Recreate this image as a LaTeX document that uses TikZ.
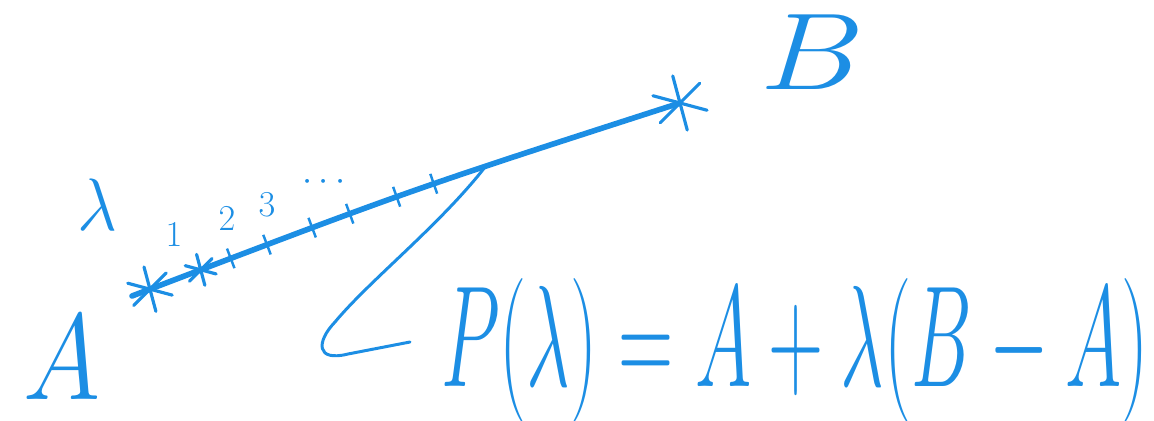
\documentclass[tikz,border=0pt]{standalone}
\usepackage{graphicx}
\definecolor{handblue}{RGB}{28,142,228}
\begin{document}
\begin{tikzpicture}[
        x=0.02cm, y=-0.02cm,
        pen/.style={draw=handblue, line width=3.2pt, line cap=round},
        thin_pen/.style={draw=handblue, line width=1.7pt, line cap=round, line join=round},
        tick_mark/.style={draw=handblue, line width=1.4pt, minimum width=0pt, minimum height=0.42cm, inner sep=0pt, sloped},
        label_text/.style={text=handblue, inner sep=0pt, font=\Huge},
        asterisk/.pic={
            \foreach \ang in {15,75,135}
                \draw[handblue, line width=1.8pt, line cap=round] (\ang:-1) -- (\ang:1);
        }
    ]
    \useasboundingbox (0,0) rectangle (1154,420);
    \coordinate (lineStart) at (132,296);
    \coordinate (ptB) at (680,103);

    % Gerade von A nach B mit Teilung
    \draw[pen] (lineStart) .. controls (410,190) .. (ptB)
        coordinate[pos=0.022] (ptA)
        coordinate[pos=0.09] (ptOne)
        coordinate[pos=0.68] (callTip)
        \foreach \p in {0.135,0.195,0.28,0.36,0.47,0.56} { node[tick_mark, pos=\p] {} };
    \pic[scale=23] at (ptA) {asterisk};
    \pic[scale=16] at (ptOne) {asterisk};
    \pic[scale=28] at (ptB) {asterisk};

    % Beschriftung
    \node[label_text] (labA) at (62,358) {\scalebox{2.4}[2.8]{$A$}};
    \node[label_text] (labB) at (813,52) {\scalebox{3}[2.5]{$B$}};
    \node[label_text] (labLambda) at (97,205) {\scalebox{1.6}[1.7]{$\lambda$}};
    \node[label_text, font=\huge] (numOne) at (174,235) {$1$};
    \node[label_text, font=\huge] (numTwo) at (227,219) {$2$};
    \node[label_text, font=\huge] (numThree) at (267,205) {$3$};
    \node[label_text, font=\huge] (numDots) at (324,182) {$\cdots$};

    % Formel mit Verweis
    \node[label_text] (formula) at (795,350)
        {\scalebox{1.75}[3.3]{$P(\lambda)=A+\lambda(B-A)$}};
    \coordinate (callEnd) at (410,342);
    \draw[thin_pen] (callTip) .. controls (440,225) and (370,280) .. (335,322)
        .. controls (316,342) and (316,362) .. (348,354) -- (callEnd);
\end{tikzpicture}
\end{document}
